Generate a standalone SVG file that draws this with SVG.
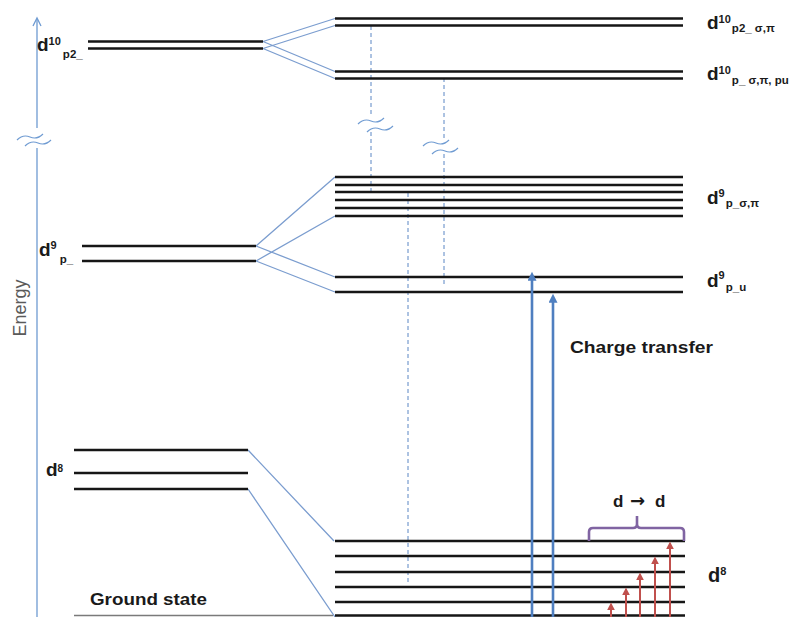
<svg xmlns="http://www.w3.org/2000/svg" width="792" height="617" viewBox="0 0 792 617">
<defs>
<style>
.lvl{stroke:#161616;stroke-width:2.6;fill:none}
.gnd{stroke:#7a7a7a;stroke-width:1.3;fill:none}
.conn{stroke:#7b9dcf;stroke-width:1.3;fill:none}
.dash{stroke:#5b86c4;stroke-width:1;stroke-dasharray:4 3;fill:none}
.axis{stroke:#6f9bd2;stroke-width:1.3;fill:none}
.brk{stroke:#6f9bd2;stroke-width:1.2;fill:none}
.ct{stroke:#4f7fc0;stroke-width:2.6;fill:none}
.dd{stroke:#c0504d;stroke-width:2;fill:none}
.brace{stroke:#8064a2;stroke-width:2.6;fill:none}
.lbl{font-family:"Liberation Sans",Arial,sans-serif;font-weight:bold;fill:#1a1a1a}
.big{font-size:19px}
.sup{font-size:11px}
.sub{font-size:11.5px}
.cap{font-family:"Liberation Sans",Arial,sans-serif;font-weight:bold;font-size:17px;fill:#1a1a1a}
.en{font-family:"Liberation Sans",Arial,sans-serif;font-size:18px;fill:#5a5a5a}
</style>
<marker id="ahBlue" viewBox="0 0 10 10" refX="3" refY="5" markerUnits="userSpaceOnUse" markerWidth="11" markerHeight="9" orient="auto">
<path d="M0,0 L10,5 L0,10 z" fill="#4f7fc0"/>
</marker>
<marker id="ahRed" viewBox="0 0 10 10" refX="3" refY="5" markerUnits="userSpaceOnUse" markerWidth="8" markerHeight="8" orient="auto">
<path d="M0,0 L10,5 L0,10 z" fill="#c0504d"/>
</marker>
<path id="brkMark" d="M0,4 Q6,-2 13,1 T26,-2"/>
</defs>

<g id="axis">
<path class="axis" d="M37,617 V148 M37,128 V19"/>
<path class="axis" d="M33,26 L37,18 L41,26"/>
<use href="#brkMark" class="brk" transform="translate(17,136)"/>
<use href="#brkMark" class="brk" transform="translate(25,142)"/>
<text class="en" transform="translate(26,308) rotate(-90)" text-anchor="middle">Energy</text>
</g>

<g id="connectors">
<path class="conn" d="M263,41.5 L335,18.5 M263,48.5 L335,25.5 M263,41.5 L335,71.5 M263,48.5 L335,78.5"/>
<path class="conn" d="M256,246 L335,177 M256,261 L335,216 M256,246 L335,277 M256,261 L335,292"/>
<path class="conn" d="M248,450 L334,541 M248,489 L335,617"/>
<path class="dash" d="M371,26 V116 M371,132 V195"/>
<path class="dash" d="M444,78 V140 M444,154 V285"/>
<path class="dash" d="M408,193 V585"/>
<use href="#brkMark" class="brk" transform="translate(358,120)"/>
<use href="#brkMark" class="brk" transform="translate(367,128)"/>
<use href="#brkMark" class="brk" transform="translate(423,142)"/>
<use href="#brkMark" class="brk" transform="translate(432,150)"/>
</g>

<g id="d10-p2-left">
<path class="lvl" d="M88,41.5 H263 M88,48.5 H263"/>
<text class="lbl" x="37" y="51"><tspan class="big">d</tspan><tspan class="sup" dy="-6">10</tspan><tspan class="sub" dx="2" dy="13">p2_</tspan></text>
</g>

<g id="d9-p-left">
<path class="lvl" d="M82,246 H256 M82,261 H256"/>
<text class="lbl" x="39" y="256"><tspan class="big">d</tspan><tspan class="sup" dy="-7">9</tspan><tspan class="sub" dx="3" dy="14">p_</tspan></text>
</g>

<g id="d8-left">
<path class="lvl" d="M74,450 H248 M74,473 H248 M74,489 H248"/>
<text class="lbl" x="46" y="476"><tspan class="big">d</tspan><tspan style="font-size:10px" dy="-4">8</tspan></text>
</g>

<g id="ground-state">
<path class="gnd" d="M74,615.5 H333"/>
<text class="cap" x="90" y="605" textLength="117" lengthAdjust="spacingAndGlyphs">Ground state</text>
</g>

<g id="d10-p2-sigma-pi">
<path class="lvl" d="M335,18.5 H683 M335,25.5 H683"/>
<text class="lbl" x="707" y="29"><tspan class="big">d</tspan><tspan class="sup" dy="-6">10</tspan><tspan class="sub" dx="1" dy="9">p2_ σ,π</tspan></text>
</g>

<g id="d10-p-sigma-pi-pu">
<path class="lvl" d="M335,71.5 H683 M335,78.5 H683"/>
<text class="lbl" x="707" y="80"><tspan class="big">d</tspan><tspan class="sup" dy="-6">10</tspan><tspan class="sub" dx="1" dy="10">p_ σ,π, pu</tspan></text>
</g>

<g id="d9-p-sigma-pi">
<path class="lvl" d="M335,177 H683 M335,185 H683 M335,192 H683 M335,200 H683 M335,208 H683 M335,216 H683"/>
<text class="lbl" x="707" y="204"><tspan class="big">d</tspan><tspan class="sup" dy="-7">9</tspan><tspan class="sub" dx="1" dy="10">p_σ,π</tspan></text>
</g>

<g id="d9-p-u">
<path class="lvl" d="M335,277 H683 M335,292 H683"/>
<text class="lbl" x="707" y="287"><tspan class="big">d</tspan><tspan class="sup" dy="-8">9</tspan><tspan class="sub" dx="1" dy="12">p_u</tspan></text>
</g>

<g id="d8-right">
<path class="lvl" d="M335,541 H685 M335,556 H685 M335,572 H685 M335,587 H685 M335,602 H685 M335,615.5 H685"/>
<text class="lbl" x="708" y="582"><tspan style="font-size:20px">d</tspan><tspan style="font-size:11px" dy="-7">8</tspan></text>
</g>

<g id="charge-transfer">
<path class="ct" d="M532,617 V278" marker-end="url(#ahBlue)"/>
<path class="ct" d="M553,617 V300" marker-end="url(#ahBlue)"/>
<text class="cap" x="570" y="353" textLength="143" lengthAdjust="spacingAndGlyphs">Charge transfer</text>
</g>

<g id="d-to-d">
<path class="dd" d="M611,617 V608" marker-end="url(#ahRed)"/>
<path class="dd" d="M626,617 V593" marker-end="url(#ahRed)"/>
<path class="dd" d="M640,617 V578" marker-end="url(#ahRed)"/>
<path class="dd" d="M655,617 V562" marker-end="url(#ahRed)"/>
<path class="dd" d="M670,617 V547" marker-end="url(#ahRed)"/>
<path class="brace" d="M589,541 V532 Q589,528 593,528 H633 Q637,528 637,524 V516 M637,524 Q637,528 641,528 H680 Q684,528 684,532 V541"/>
<text class="cap" y="507"><tspan x="613">d</tspan><tspan x="630" style="font-family:'DejaVu Sans',sans-serif;font-size:18px">→</tspan><tspan x="655">d</tspan></text>
</g>
</svg>
